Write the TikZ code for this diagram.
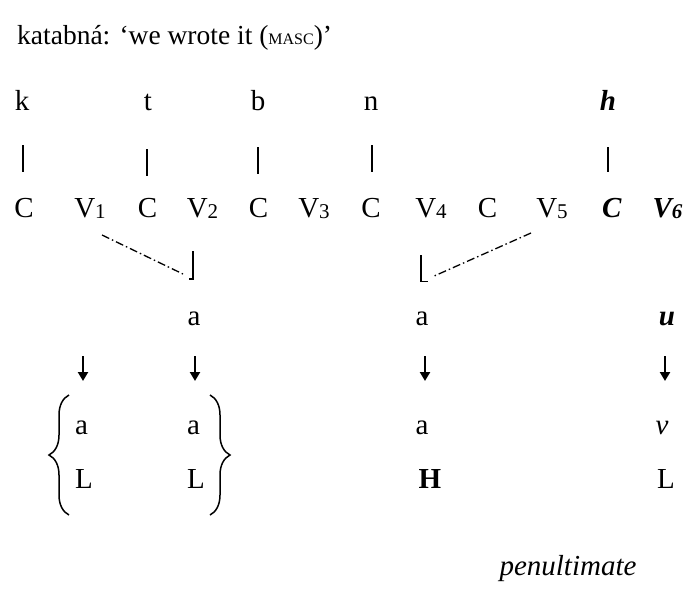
\documentclass[tikz,border=0pt]{standalone}
\usepackage{fontspec}
\setmainfont{Liberation Serif}
\usetikzlibrary{decorations.pathreplacing,arrows.meta}
\newcommand{\sbs}[1]{\raisebox{-1.5pt}{\fontsize{21}{21}\selectfont #1}}
\begin{document}
\begin{tikzpicture}[x=1pt,y=-1pt,
  every node/.style={inner sep=0pt,font=\fontsize{29}{34}\selectfont},
  lbl/.style={anchor=base},
  lblw/.style={anchor=base west},
  bar/.style={line width=1.6pt},
  dd/.style={line width=1.3pt,dash pattern=on 8pt off 3pt on 1.5pt off 3pt},
  arr/.style={line width=2.3pt,-{Triangle[length=9pt,width=10pt]}},
  brc/.style={line width=1.5pt,decorate,decoration={brace,amplitude=20pt}}]
\useasboundingbox (0,0) rectangle (692,605);
% title
\node[lblw,font=\fontsize{27.5}{32}\selectfont] (title) at (17,44) {katabná: ‘we wrote it ({\fontsize{16}{16}\selectfont MASC})’};
% root consonants
\node[lbl] (k) at (22,110) {k};
\node[lbl] (t) at (148,110) {t};
\node[lbl] (b) at (258,110) {b};
\node[lbl] (n) at (371,110) {n};
\node[lbl] (h) at (608,110) {\textbf{\textit{h}}};
% skeleton
\node[lbl] (c1) at (24,217) {C};
\node[lbl] (v1) at (90,217) {V\sbs{1}};
\node[lbl] (c2) at (147.5,217) {C};
\node[lbl] (v2) at (202.5,217) {V\sbs{2}};
\node[lbl] (c3) at (258.5,217) {C};
\node[lbl] (v3) at (314,217) {V\sbs{3}};
\node[lbl] (c4) at (371,217) {C};
\node[lbl] (v4) at (431,217) {V\sbs{4}};
\node[lbl] (c5) at (487.5,217) {C};
\node[lbl] (v5) at (552,217) {V\sbs{5}};
\node[lbl] (c6) at (612,217) {\textbf{\textit{C}}};
\node[lbl] (v6) at (667.5,217) {\textbf{\textit{V\sbs{6}}}};
% association bars
\draw[bar] (23,145) -- (23,172);
\draw[bar] (147,149) -- (147,176);
\draw[bar] (258,147) -- (258,174);
\draw[bar] (372,145) -- (372,172);
\draw[bar] (608,147) -- (608,172);
% spreading
\coordinate (l1) at (102,235);
\coordinate (l2) at (183,274);
\draw[dd] (l1) -- (l2);
\draw[bar] (193,251) -- (193,279) -- (189,279);
\coordinate (r1) at (531,233);
\coordinate (r2) at (432,277);
\draw[dd] (r1) -- (r2);
\draw[bar] (421,255) -- (421,281.5) -- (428,281.5);
% melody vowels
\node[lbl] (a1) at (194,325) {a};
\node[lbl] (a2) at (422,325) {a};
\node[lbl] (u) at (667,325) {\textbf{\textit{u}}};
% arrows
\draw[arr] (83,356) -- (83,381);
\draw[arr] (195,356) -- (195,381);
\draw[arr] (425,356) -- (425,381);
\draw[arr] (665,356) -- (665,381);
% outputs
\node[lblw] (o1) at (75,434) {a};
\node[lblw] (o2) at (187,434) {a};
\node[lbl] (o3) at (422,434) {a};
\node[lbl] (o4) at (662,434) {\textit{v}};
\node[lblw] (t1) at (75,488) {L};
\node[lblw] (t2) at (187,488) {L};
\node[lbl] (t3) at (430,488) {\textbf{H}};
\node[lbl] (t4) at (666,488) {L};
% braces
\draw[brc] (69,515) -- (69,395);
\draw[brc] (210,395) -- (210,515);
% note
\node[lbl] (pen) at (568,575) {\textit{penultimate}};
\end{tikzpicture}
\end{document}
